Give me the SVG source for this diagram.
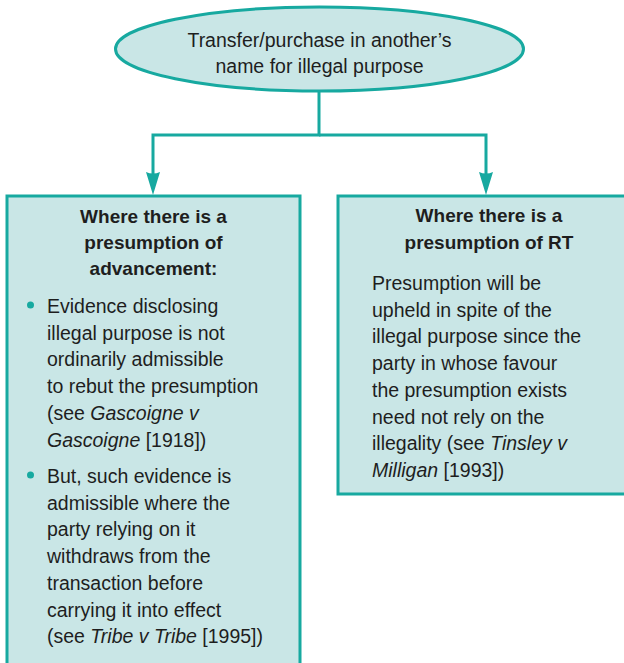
<svg xmlns="http://www.w3.org/2000/svg" width="624" height="663" viewBox="0 0 624 663">
  <defs>
    <style>
      .shape { fill: #c9e6e6; stroke: #17a9a0; stroke-width: 3; }
      .link { fill: none; stroke: #17a9a0; stroke-width: 3; }
      .head { fill: #17a9a0; }
      text { font-family: "Liberation Sans", Arial, sans-serif; font-size: 19.5px; fill: #1e1e1e; }
      .title { font-weight: bold; font-size: 19px; text-anchor: middle; }
      .mid { text-anchor: middle; }
      .it { font-style: italic; }
      .dot { fill: #17a9a0; }
    </style>
  </defs>

  <!-- connectors -->
  <g id="connectors">
    <polyline class="link" points="319,91 319,135 153,135 153,174"/>
    <polyline class="link" points="319,135 486,135 486,174"/>
    <path class="head" d="M146,172 Q153,175 160,172 L153,195 Z"/>
    <path class="head" d="M479,172 Q486,175 493,172 L486,195 Z"/>
  </g>

  <!-- top ellipse -->
  <g id="node-source">
    <ellipse class="shape" cx="319.5" cy="49" rx="204" ry="42"/>
    <text class="mid" x="319.5" y="47">Transfer/purchase in another’s</text>
    <text class="mid" x="319.5" y="73">name for illegal purpose</text>
  </g>

  <!-- left box: presumption of advancement -->
  <g id="node-advancement">
    <rect class="shape" x="7" y="196" width="293" height="480"/>
    <text class="title" x="153.5" y="223">Where there is a</text>
    <text class="title" x="153.5" y="249">presumption of</text>
    <text class="title" x="153.5" y="275">advancement:</text>

    <circle class="dot" cx="30.5" cy="305" r="3.5"/>
    <text x="47" y="313">Evidence disclosing</text>
    <text x="47" y="339.7">illegal purpose is not</text>
    <text x="47" y="366.4">ordinarily admissible</text>
    <text x="47" y="393">to rebut the presumption</text>
    <text x="47" y="419.8">(see <tspan class="it">Gascoigne v</tspan></text>
    <text x="47" y="446.5"><tspan class="it">Gascoigne</tspan> [1918])</text>

    <circle class="dot" cx="30.5" cy="475" r="3.5"/>
    <text x="47" y="483">But, such evidence is</text>
    <text x="47" y="509.7">admissible where the</text>
    <text x="47" y="536.4">party relying on it</text>
    <text x="47" y="563">withdraws from the</text>
    <text x="47" y="589.8">transaction before</text>
    <text x="47" y="616.5">carrying it into effect</text>
    <text x="47" y="643.2">(see <tspan class="it">Tribe v Tribe</tspan> [1995])</text>
  </g>

  <!-- right box: presumption of resulting trust -->
  <g id="node-resulting-trust">
    <rect class="shape" x="338" y="196" width="300" height="298"/>
    <text class="title" x="489" y="222">Where there is a</text>
    <text class="title" x="489" y="249">presumption of RT</text>
    <text x="372" y="290">Presumption will be</text>
    <text x="372" y="316.7">upheld in spite of the</text>
    <text x="372" y="343.4">illegal purpose since the</text>
    <text x="372" y="370">party in whose favour</text>
    <text x="372" y="396.8">the presumption exists</text>
    <text x="372" y="423.5">need not rely on the</text>
    <text x="372" y="450.2">illegality (see <tspan class="it">Tinsley v</tspan></text>
    <text x="372" y="477"><tspan class="it">Milligan</tspan> [1993])</text>
  </g>
</svg>
